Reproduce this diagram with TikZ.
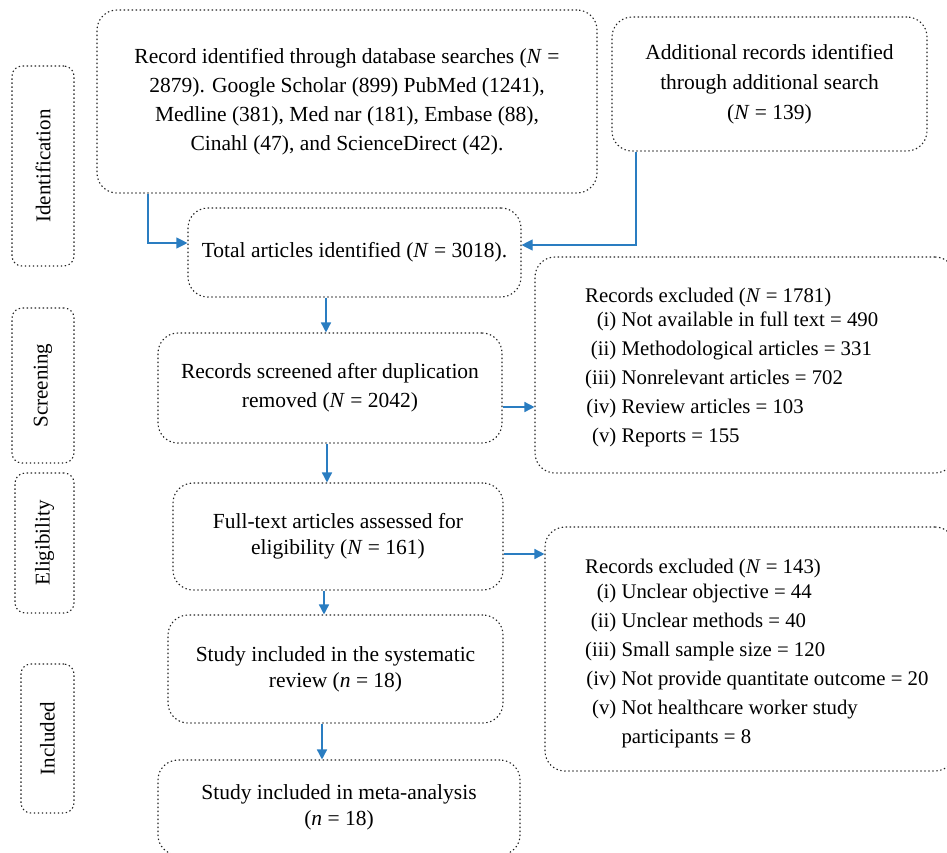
\documentclass[tikz,border=0pt]{standalone}
\usepackage{fontspec}
\setmainfont{Liberation Serif}
\usetikzlibrary{arrows.meta,calc}
\definecolor{arrowblue}{HTML}{2A7DC1}
\definecolor{boxline}{HTML}{202020}
\begin{document}
\begin{tikzpicture}[x=1pt,y=-1pt,
  box/.style={draw=boxline,line width=1.1pt,dash pattern=on 1.4pt off 2.6pt,rounded corners=20pt,inner sep=0pt,align=center,font=\fontsize{21.5}{29}\selectfont},
  stagebox/.style={draw=boxline,line width=1.1pt,dash pattern=on 1.4pt off 2.6pt,rounded corners=10pt,inner sep=0pt},
  stagetext/.style={rotate=90,font=\fontsize{21}{23}\selectfont,inner sep=0pt},
  listtext/.style={anchor=north west,inner sep=0pt,font=\fontsize{20.8}{29}\selectfont},
  arr/.style={draw=arrowblue,line width=1.5pt,-{Triangle[length=10pt,width=10pt]}},
  elbow/.style={draw=arrowblue,line width=1.1pt,-{Triangle[length=11pt,width=11pt]}}]
\useasboundingbox (0,0) rectangle (947,852);

% stage boxes
\node[stagebox,minimum width=62pt,minimum height=200pt] (sId) at (43,166) {};
\node[stagetext] (tId) at (sId.center) {Identification};
\node[stagebox,minimum width=62pt,minimum height=155pt] (sSc) at (43,385.5) {};
\node[stagetext] (tSc) at (sSc.center) {Screening};
\node[stagebox,minimum width=59pt,minimum height=140pt] (sEl) at (44.5,543) {};
\node[stagetext] (tEl) at (sEl.center) {Eligibility};
\node[stagebox,minimum width=53pt,minimum height=149pt] (sIn) at (47.5,738.5) {};
\node[stagetext] (tIn) at (sIn.center) {Included};

% main boxes
\node[box,minimum width=500pt,minimum height=183pt] (A) at (347,101.5)
  {Record identified through database searches (\textit{N} =\\
   2879). Google Scholar (899) PubMed (1241),\\
   Medline (381), Med nar (181), Embase (88),\\
   Cinahl (47), and ScienceDirect (42).};
\node[box,minimum width=315pt,minimum height=134pt,font=\fontsize{21.5}{30}\selectfont] (B) at (769.5,84)
  {Additional records identified\\ through additional search\\ (\textit{N} = 139)};
\node[box,minimum width=333pt,minimum height=89pt] (T) at (354.5,252.5)
  {Total articles identified (\textit{N} = 3018).};
\node[box,minimum width=344pt,minimum height=110pt] (S) at (330,388)
  {Records screened after duplication\\ removed (\textit{N} = 2042)};
\node[box,minimum width=330pt,minimum height=107pt,font=\fontsize{21.5}{26}\selectfont] (E) at (338,536.5)
  {Full-text articles assessed for\\ eligibility (\textit{N} = 161)};
\node[box,minimum width=335pt,minimum height=108pt,font=\fontsize{21.5}{26}\selectfont] (R) at (335.5,669)
  {Study included in the systematic\\ review (\textit{n} = 18)};
\node[box,minimum width=362pt,minimum height=95pt,font=\fontsize{21.5}{26}\selectfont] (M) at (339,807.5)
  {Study included in meta-analysis\\ (\textit{n} = 18)};

% exclusion boxes
\node[box,minimum width=420pt,minimum height=216pt] (X1) at (745,365) {};
\node[listtext] (X1t) at (585,282)
  {\begin{tabular}{@{}r@{ }l@{}}
   \multicolumn{2}{@{}l@{}}{Records excluded (\textit{N} = 1781)}\\[-5pt]
   (i) & Not available in full text = 490\\
   (ii) & Methodological articles = 331\\
   (iii) & Nonrelevant articles = 702\\
   (iv) & Review articles = 103\\
   (v) & Reports = 155
   \end{tabular}};
\node[box,minimum width=410pt,minimum height=244pt] (X2) at (750,649) {};
\node[listtext] (X2t) at (585,553)
  {\begin{tabular}{@{}r@{ }l@{}}
   \multicolumn{2}{@{}l@{}}{Records excluded (\textit{N} = 143)}\\[-4pt]
   (i) & Unclear objective = 44\\
   (ii) & Unclear methods = 40\\
   (iii) & Small sample size = 120\\
   (iv) & Not provide quantitate outcome = 20\\
   (v) & Not healthcare worker study\\
       & participants = 8
   \end{tabular}};

% connectors
\draw[elbow] ([xshift=-199pt]A.south) |- ([yshift=9.5pt]T.west);
\draw[elbow] ([xshift=-133.5pt]B.south) |- ([yshift=7.5pt]T.east);
\draw[arr] ([xshift=-28.5pt]T.south) -- ([xshift=-28.5pt]T.south |- S.north);
\draw[arr] ([yshift=-19pt]S.east) -- ([yshift=-19pt]S.east -| X1.west);
\draw[arr] ([xshift=-3pt]S.south) -- ([xshift=-3pt]S.south |- E.north);
\draw[arr] ([yshift=-17.5pt]E.east) -- ([yshift=-17.5pt]E.east -| X2.west);
\draw[arr] ([xshift=-14pt]E.south) -- ([xshift=-14pt]E.south |- R.north);
\draw[arr] ([xshift=-13.5pt]R.south) -- ([xshift=-13.5pt]R.south |- M.north);
\end{tikzpicture}
\end{document}
